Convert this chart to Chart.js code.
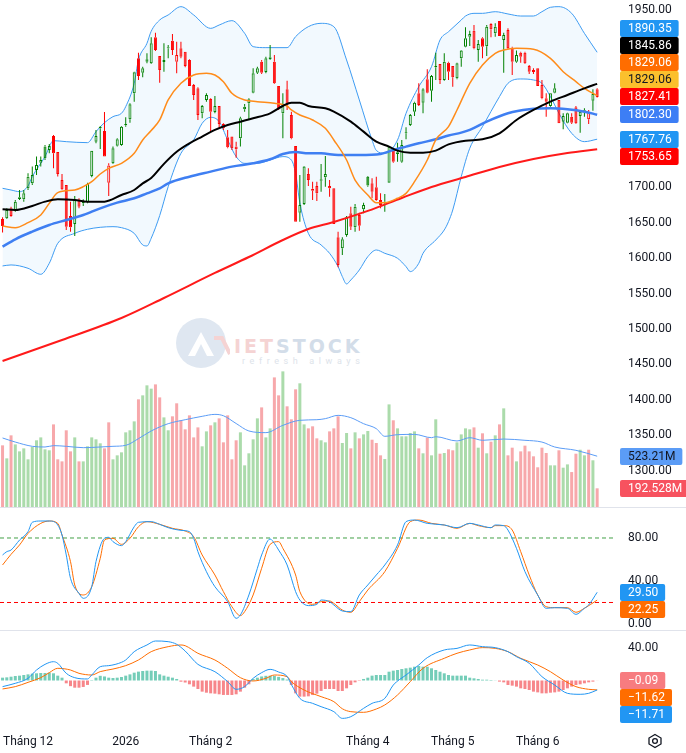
<!DOCTYPE html>
<html><head><meta charset="utf-8">
<script src="https://cdn.jsdelivr.net/npm/chart.js@4.4.1/dist/chart.umd.min.js"></script>
<style>
html,body{margin:0;padding:0;background:#fff;}
body{width:686px;height:753px;position:relative;overflow:hidden;font-family:Roboto,'Liberation Sans',Arial,sans-serif;}
canvas{position:absolute;left:0;}
#c1{top:0}
#c2{top:508px}
#c3{top:631px}
.sep{position:absolute;left:0;width:686px;height:1px;background:#e0e3eb;}
#wm{position:absolute;left:174px;top:316px;width:200px;height:56px;}
#wm .txt{position:absolute;left:60px;top:20px;font-family:'DejaVu Sans',sans-serif;font-weight:bold;font-size:19px;letter-spacing:3px;color:#d3dde9;line-height:20px;white-space:nowrap;}
#wm .txt span{color:#f5d3d3;}
#wm .sub{position:absolute;left:68px;top:40px;font-size:9px;letter-spacing:4.6px;color:#dde3ea;white-space:nowrap;}
#gear{position:absolute;left:647px;top:733px;}
</style></head><body>
<div id="wm">
  <svg width="56" height="56" viewBox="0 0 56 56" style="position:absolute;left:0;top:0">
    <circle cx="27" cy="27" r="25" fill="#dfe7f1"/>
    <path d="M14 40 L27 16 L40 40 L33 40 L27 28 L21 40 Z" fill="#ffffff"/>
    <path d="M40 22 L48 22 L56 38" stroke="#f5d3d3" stroke-width="4" fill="none"/>
  </svg>
  <div class="txt"><span>IET</span>STOCK</div>
  <div class="sub">refresh always</div>
</div>
<canvas id="c1" width="686" height="507"></canvas>
<div class="sep" style="top:507px"></div>
<canvas id="c2" width="686" height="122"></canvas>
<div class="sep" style="top:630px"></div>
<canvas id="c3" width="686" height="122"></canvas>
<svg id="gear" width="16" height="16" viewBox="0 0 16 16"><polygon points="8,1.5 14,5 14,11 8,14.5 2,11 2,5" fill="none" stroke="#131722" stroke-width="1.3"/><circle cx="8" cy="8" r="2.4" fill="none" stroke="#131722" stroke-width="1.3"/></svg>
<script>
// ---------------- DATA ----------------
const opens = [1655.2,1656.2,1670.3,1667.0,1683.4,1683.0,1698.5,1705.5,1724.3,1734.7,
1757.3,1752.5,1772.3,1749.7,1710.2,1703.2,1659.5,1648.2,1682.0,1677.3,
1678.8,1715.9,1764.3,1783.1,1779.4,1706.5,1733.7,1758.7,1759.6,1787.3,
1795.8,1832.5,1881.8,1861.6,1877.1,1874.8,1911.5,1885.1,1876.7,1895.9,
1906.7,1877.1,1895.9,1891.2,1879.5,1844.2,1839.5,1804.3,1823.1,1824.5,
1806.1,1814.6,1789.2,1770.4,1771.4,1757.3,1769.0,1809.9,1818.4,1833.4,
1861.6,1877.1,1862.6,1880.4,1877.1,1842.8,1804.3,1838.1,1801.9,1758.2,
1664.2,1676.4,1718.7,1698.0,1701.8,1709.3,1714.0,1701.8,1698.5,1629.4,
1613.9,1632.7,1663.2,1643.5,1660.9,1668.9,1714.9,1705.5,1699.9,1682.0,
1678.3,1706.5,1751.6,1746.9,1736.1,1776.1,1787.8,1806.6,1832.5,1819.3,
1852.2,1836.2,1869.1,1873.8,1851.3,1875.7,1871.0,1853.6,1881.8,1898.3,
1912.4,1920.8,1893.6,1910.0,1898.8,1930.3,1917.1,1934.5,1907.7,1921.8,
1896.9,1877.1,1889.8,1889.8,1871.0,1865.4,1867.7,1844.2,1825.4,1814.6,
1833.4,1823.1,1792.5,1791.1,1799.6,1812.7,1800.5,1806.6,1795.8,1822.1,
1838.1];
const highs = [1657.6,1670.3,1672.6,1682.0,1696.1,1696.1,1719.6,1729.1,1743.2,1743.2,
1759.6,1761.0,1773.7,1749.7,1718.7,1703.2,1679.7,1687.7,1684.4,1683.0,
1706.5,1751.6,1780.8,1786.4,1806.1,1733.7,1757.3,1769.0,1786.4,1798.6,
1818.4,1863.0,1889.8,1870.1,1888.9,1911.5,1918.0,1885.1,1903.0,1900.6,
1916.1,1905.3,1905.3,1891.2,1880.4,1845.6,1840.9,1816.0,1832.5,1825.4,
1828.7,1814.6,1790.2,1780.8,1771.4,1764.3,1799.6,1817.4,1825.4,1867.7,
1870.1,1879.5,1884.2,1900.6,1886.5,1842.8,1832.5,1850.3,1806.6,1758.2,
1717.3,1730.0,1726.7,1707.9,1707.9,1732.8,1744.1,1710.2,1698.5,1637.4,
1629.4,1659.5,1672.6,1676.4,1664.2,1678.3,1715.9,1712.6,1714.9,1691.4,
1690.5,1757.3,1754.9,1762.9,1766.7,1784.5,1803.3,1820.7,1846.6,1839.5,
1866.3,1858.3,1889.8,1873.8,1888.9,1877.1,1871.0,1875.7,1893.6,1925.6,
1920.8,1928.8,1907.7,1911.5,1928.8,1931.2,1931.2,1934.5,1918.0,1924.1,
1898.3,1892.7,1891.2,1891.2,1872.4,1867.7,1867.7,1851.3,1832.5,1832.5,
1846.6,1823.1,1804.3,1805.2,1804.3,1814.6,1809.0,1811.3,1809.0,1838.1,
1839.5];
const lows = [1636.0,1655.2,1658.5,1665.6,1682.0,1679.7,1696.1,1703.2,1717.3,1729.1,
1738.4,1747.8,1726.7,1715.0,1696.1,1639.7,1637.4,1631.3,1670.3,1673.6,
1677.3,1714.0,1762.0,1754.0,1743.2,1687.7,1732.8,1757.3,1758.7,1785.5,
1791.1,1820.7,1851.3,1855.0,1874.8,1873.8,1892.2,1847.5,1863.0,1881.8,
1886.5,1860.7,1881.8,1869.1,1842.8,1823.1,1794.9,1797.2,1820.7,1778.4,
1804.3,1783.1,1780.8,1754.9,1752.5,1741.7,1757.3,1806.6,1794.9,1832.5,
1859.7,1859.7,1860.7,1879.5,1845.6,1809.0,1769.0,1809.0,1767.6,1651.5,
1651.5,1675.0,1701.8,1682.0,1680.6,1693.8,1700.8,1686.7,1648.2,1587.1,
1604.5,1630.3,1639.7,1637.4,1638.8,1663.2,1700.8,1684.4,1681.1,1670.3,
1665.6,1706.5,1734.7,1736.1,1734.7,1767.6,1786.4,1800.5,1814.6,1804.3,
1832.5,1820.7,1851.3,1845.6,1850.3,1851.3,1841.9,1852.2,1870.1,1897.3,
1899.2,1894.5,1877.1,1881.8,1885.1,1911.5,1912.4,1913.3,1861.6,1894.5,
1858.3,1875.7,1875.7,1873.8,1859.7,1859.7,1842.8,1824.0,1799.6,1813.7,
1832.5,1790.2,1781.7,1790.2,1789.2,1789.2,1777.0,1799.6,1789.2,1808.0,
1826.5];
const closes = [1645.4,1667.9,1659.5,1679.7,1685.8,1691.4,1714.9,1717.3,1731.4,1738.4,
1740.8,1758.2,1747.8,1718.7,1697.1,1644.4,1643.5,1682.0,1672.6,1679.7,
1704.6,1751.6,1772.3,1785.5,1743.2,1730.5,1754.9,1767.6,1785.5,1789.2,
1817.0,1862.1,1856.9,1867.7,1880.4,1903.0,1893.6,1865.4,1879.5,1897.3,
1893.6,1886.5,1884.2,1871.0,1842.8,1830.1,1801.9,1814.6,1830.1,1806.6,
1814.6,1789.2,1783.1,1756.3,1754.9,1753.5,1797.2,1813.7,1824.0,1860.7,
1867.7,1861.6,1881.8,1883.2,1846.6,1811.3,1817.4,1816.5,1769.0,1651.5,
1675.0,1729.1,1710.2,1695.2,1691.4,1711.2,1718.7,1698.5,1648.2,1590.4,
1626.6,1657.6,1644.4,1672.6,1645.8,1675.0,1702.3,1693.8,1682.0,1675.0,
1679.7,1757.3,1736.1,1749.3,1759.6,1777.0,1801.9,1819.3,1816.0,1838.1,
1833.4,1856.9,1871.0,1851.3,1877.1,1863.0,1855.0,1874.8,1892.7,1910.0,
1916.1,1895.9,1902.0,1898.3,1926.5,1922.7,1926.5,1913.3,1914.7,1895.9,
1877.1,1886.5,1884.2,1874.8,1863.0,1862.6,1842.8,1825.4,1820.7,1832.5,
1839.5,1790.2,1800.5,1804.3,1791.1,1790.2,1806.6,1808.5,1806.6,1831.5,
1827.41];
// volume, millions
const volumes = [635,501,738,645,573,604,491,618,687,717,
594,584,851,491,470,790,573,717,470,470,
625,717,697,656,604,872,491,532,563,769,
790,882,1109,1150,1253,1219,1263,1129,923,790,
934,1068,893,800,944,717,820,625,779,841,
872,913,666,944,491,687,769,429,553,697,
913,1026,717,810,1335,1150,1397,1037,903,1212,
1274,851,810,831,707,687,666,779,810,934,
659,762,604,769,707,748,783,693,659,532,
494,1057,893,810,728,728,762,779,604,553,
714,532,903,549,556,594,584,666,748,810,
800,820,611,759,553,673,738,851,1016,532,
611,470,573,632,573,522,409,611,556,429,
429,584,405,439,360,549,590,532,590,481,
192.528];
const volMA = [[0,711],[3,669],[7,625],[10,618],[12,632],[15,625],[19,611],[23,618],[26,625],[29,635],[32,704],[35,783],[39,858],[43,899],[47,934],[50,954],[52,940],[55,860],[58,783],[62,766],[66,841],[70,893],[74,899],[76,910],[79,944],[82,920],[85,858],[88,807],[90,728],[93,745],[97,748],[101,714],[102,724],[107,680],[110,714],[113,687],[118,700],[123,687],[127,669],[130,618],[135,584],[140,523.21]];
const bbUpper = [[0,1698.5],[2,1696.1],[4,1693.8],[6,1701.8],[7,1714.9],[10,1743.2],[12,1765.7],[15,1764.3],[20,1762.9],[22,1778.4],[24,1791.1],[26,1799.6],[28,1804.3],[29,1813.7],[31,1846.6],[32,1879.5],[34,1903.0],[35,1920.0],[37,1935.9],[39,1943.0],[42,1954.7],[45,1943.0],[49,1924.1],[51,1928.8],[54,1935.0],[57,1917.1],[59,1898.3],[62,1896.9],[67,1896.9],[69,1912.4],[72,1926.5],[75,1931.2],[78,1926.5],[81,1879.5],[84,1823.1],[87,1766.7],[88,1752.0],[90,1747.9],[93,1766.7],[95,1804.3],[98,1841.9],[101,1870.1],[103,1907.7],[105,1919.4],[108,1935.9],[109,1941.5],[111,1945.3],[113,1945.3],[116,1947.6],[119,1944.4],[122,1941.5],[125,1941.5],[127,1947.6],[129,1953.8],[131,1954.7],[134,1945.3],[137,1917.1],[140,1890.35]];
const bbLower = [[0,1589.0],[2,1590.4],[6,1585.7],[9,1577.2],[11,1592.7],[13,1620.9],[17,1635.0],[20,1640.7],[23,1643.5],[26,1644.4],[28,1643.0],[31,1635.0],[33,1618.6],[34,1617.2],[35,1628.0],[37,1660.0],[39,1700.8],[42,1747.8],[45,1766.7],[47,1790.2],[49,1798.6],[51,1792.5],[53,1766.7],[55,1743.2],[57,1733.7],[60,1733.7],[63,1738.4],[66,1743.2],[68,1738.4],[69,1719.6],[70,1678.0],[72,1635.0],[75,1618.6],[77,1606.8],[79,1588.0],[80,1574.0],[81,1563.6],[82,1569.2],[84,1583.3],[86,1602.1],[88,1611.5],[90,1606.8],[93,1599.8],[95,1588.0],[96,1581.0],[98,1592.7],[99,1606.8],[102,1625.6],[104,1639.7],[105,1651.5],[106,1667.9],[108,1715.0],[110,1754.9],[113,1785.5],[117,1827.8],[119,1846.6],[122,1852.7],[125,1851.3],[127,1846.6],[129,1827.8],[131,1804.3],[134,1776.1],[137,1764.3],[140,1767.76]];
const ma20 = [[0,1645.4],[3,1643.0],[6,1650.1],[9,1660.9],[11,1677.3],[13,1692.4],[17,1696.1],[19,1700.8],[21,1707.9],[23,1718.7],[25,1726.7],[28,1733.7],[31,1747.8],[33,1766.7],[35,1780.0],[37,1795.0],[39,1823.1],[42,1846.6],[45,1858.3],[48,1860.7],[50,1858.3],[52,1848.9],[54,1832.5],[57,1823.1],[60,1820.7],[64,1818.4],[67,1814.6],[68,1809.0],[70,1801.9],[73,1794.9],[76,1783.1],[78,1766.7],[81,1738.4],[83,1710.2],[86,1689.1],[88,1678.3],[90,1678.3],[93,1684.4],[95,1691.4],[97,1707.9],[100,1738.4],[102,1766.7],[105,1785.5],[107,1809.0],[110,1846.6],[113,1872.4],[116,1888.9],[118,1893.6],[121,1895.9],[125,1894.5],[129,1881.8],[132,1863.0],[135,1848.9],[137,1839.5],[140,1829.06]];
const ma50 = [[0,1668.9],[3,1667.9],[7,1673.6],[10,1679.7],[13,1683.0],[17,1682.0],[20,1679.7],[24,1679.7],[28,1689.1],[31,1696.1],[33,1705.5],[35,1713.0],[38,1733.0],[41,1750.0],[44,1761.9],[47,1771.4],[50,1780.8],[53,1787.8],[56,1792.5],[59,1797.2],[63,1804.3],[66,1814.6],[68,1819.3],[70,1819.3],[72,1814.6],[76,1811.3],[78,1806.6],[82,1792.5],[85,1778.4],[88,1764.3],[91,1757.3],[93,1751.6],[96,1748.8],[99,1748.8],[102,1751.6],[105,1760.5],[109,1765.7],[113,1767.6],[117,1776.1],[121,1794.9],[125,1809.0],[129,1820.7],[133,1830.1],[137,1839.5],[140,1845.86]];
const ma100 = [[0,1616.2],[3,1626.6],[7,1637.4],[11,1646.8],[15,1653.8],[19,1660.9],[23,1670.3],[27,1678.3],[31,1684.4],[34,1691.4],[37,1698.5],[39,1705.5],[44,1714.9],[49,1722.0],[54,1729.1],[59,1733.7],[63,1739.4],[66,1746.9],[69,1749.7],[72,1747.8],[75,1747.8],[79,1745.5],[84,1745.5],[89,1746.9],[92,1752.5],[95,1757.3],[98,1762.0],[102,1767.6],[105,1773.0],[108,1777.0],[110,1780.8],[114,1792.5],[119,1804.3],[124,1809.9],[129,1811.3],[133,1809.9],[137,1806.6],[140,1802.30]];
const ma200 = [[0,1454.9],[14,1484.6],[28,1515.6],[38,1543.8],[50,1579.1],[58,1601.6],[66,1625.6],[72,1641.1],[78,1651.0],[86,1666.6],[94,1684.9],[101,1700.4],[109,1714.5],[117,1728.6],[125,1739.9],[133,1748.4],[140,1753.65]];
const stochK = [[0,64.2],[1,67.3],[2,68.8],[4,78.1],[6,85.9],[7,94.6],[9,95.8],[11,95.8],[13,92.1],[14,82.8],[15,64.2],[16,42.5],[18,28.5],[19,23.9],[21,34.7],[22,58.0],[24,79.7],[25,80.6],[26,76.6],[28,72.9],[29,76.6],[31,90.5],[32,94.6],[35,95.2],[37,92.7],[39,89.6],[42,87.1],[44,85.9],[45,79.7],[46,67.3],[48,48.7],[50,34.7],[53,20.8],[55,5.3],[56,8.4],[58,27.0],[60,51.8],[61,64.2],[63,79.1],[64,75.0],[65,68.8],[67,54.9],[69,30.1],[70,22.3],[72,17.1],[74,18.3],[75,22.3],[77,20.8],[78,17.7],[80,12.1],[82,11.5],[84,27.0],[86,36.3],[88,45.6],[90,54.9],[93,73.5],[95,95.2],[97,96.7],[100,93.6],[104,92.1],[107,89.6],[110,93.6],[112,92.1],[115,89.6],[116,92.1],[118,91.5],[119,87.4],[121,70.4],[123,48.7],[126,27.0],[128,14.6],[130,15.2],[133,14.6],[135,9.0],[137,14.6],[138,17.7],[140,29.50]];
const stochD = [[0,54.9],[2,64.8],[4,73.5],[6,84.3],[9,93.6],[11,95.8],[13,93.6],[14,82.8],[16,58.0],[17,36.3],[19,27.0],[21,34.7],[23,61.1],[24,78.1],[26,79.7],[28,74.1],[30,79.7],[32,90.5],[34,95.2],[37,92.7],[40,89.0],[43,86.5],[45,81.2],[47,64.2],[50,45.6],[52,30.1],[54,16.1],[56,7.8],[57,11.5],[59,27.0],[61,51.8],[63,74.1],[65,76.6],[66,70.4],[69,45.6],[70,30.1],[73,18.3],[75,20.8],[77,21.4],[78,19.2],[80,13.0],[82,10.9],[84,20.8],[86,31.6],[90,48.7],[93,70.4],[96,95.2],[98,96.7],[101,93.6],[104,92.1],[107,89.0],[110,93.6],[112,91.5],[115,89.6],[116,91.5],[118,91.5],[120,87.4],[122,67.3],[124,45.6],[126,27.0],[128,16.1],[130,15.2],[133,15.2],[135,10.9],[137,14.6],[140,22.25]];
const stochLevels = [80, 20];
const macdLine = [[0,-7.6],[3,-3.5],[6,2.7],[8,13.0],[10,20.0],[12,23.3],[13,21.3],[15,8.9],[17,3.5],[20,1.9],[21,6.8],[23,17.1],[25,18.4],[28,22.5],[29,25.4],[31,35.7],[34,44.0],[36,48.9],[39,48.1],[41,44.8],[43,36.5],[46,20.0],[50,10.9],[53,-1.4],[55,-10.9],[57,-7.6],[59,2.7],[61,9.7],[63,13.8],[65,10.5],[67,5.0],[68,-5.0],[70,-22.1],[73,-28.3],[75,-32.4],[78,-38.6],[80,-46.9],[82,-44.8],[85,-34.5],[87,-28.3],[90,-22.1],[92,-5.6],[95,6.8],[98,19.2],[100,28.3],[104,37.8],[107,39.8],[110,44.0],[113,41.9],[116,40.7],[119,35.7],[121,29.5],[124,21.3],[127,4.8],[130,-5.6],[133,-15.9],[136,-17.1],[138,-15.9],[140,-11.71]];
const signalLine = [[0,-10.5],[3,-7.6],[6,-2.3],[9,3.5],[11,9.7],[13,15.1],[16,13.0],[18,8.9],[21,6.8],[23,11.0],[26,14.2],[29,18.4],[32,25.4],[35,35.7],[39,41.9],[42,44.0],[43,43.1],[46,33.7],[50,25.4],[53,15.1],[56,3.5],[59,-0.6],[62,2.7],[64,6.8],[67,4.7],[68,-1.4],[71,-11.8],[75,-20.0],[78,-26.2],[80,-35.0],[82,-38.6],[85,-39.4],[88,-35.3],[90,-30.3],[93,-17.9],[96,-1.4],[99,15.1],[104,27.5],[107,33.7],[110,37.8],[113,40.7],[116,39.8],[119,35.7],[122,27.5],[126,19.2],[129,10.9],[132,0.6],[135,-7.6],[138,-10.9],[140,-11.62]];
const macdHist = [3.5,3.9,4.7,5.6,6.0,6.8,7.6,8.5,8.9,9.3,
9.3,9.7,8.9,6.0,3.5,-3.5,-7.0,-8.9,-8.9,-8.0,
-5.5,0.5,3.5,5.8,5.0,3.5,3.1,3.5,4.3,6.0,
7.6,9.7,11.0,11.8,12.2,12.2,11.8,7.6,6.0,4.7,
3.5,1.9,-1.5,-2.5,-4.7,-7.6,-10.5,-13.8,-15.1,-15.9,
-16.3,-17.1,-17.9,-17.9,-17.9,-17.1,-13.8,-8.9,-4.7,1.9,
3.5,5.0,5.8,6.0,5.8,4.5,3.0,1.2,-5.6,-15.9,
-20.0,-20.0,-19.6,-18.0,-16.3,-13.0,-10.5,-10.5,-10.5,-13.0,
-13.0,-9.7,-5.6,-2.3,-0.5,1.9,3.5,6.0,6.8,6.8,
6.8,10.9,12.2,13.0,14.2,15.1,15.9,17.1,18.0,17.1,
17.1,15.1,13.0,10.9,8.9,6.8,6.0,6.0,6.0,6.0,
3.5,2.7,1.9,1.0,1.0,0.6,0.2,-1.4,-2.3,-5.6,
-6.4,-7.6,-9.7,-10.5,-11.8,-13.8,-14.7,-15.9,-15.9,-15.1,
-14.7,-13.8,-11.8,-9.7,-7.6,-5.6,-4.7,-3.5,-2.3,-1.4,
-0.09];
const priceTicks = [1300,1350,1400,1450,1500,1550,1600,1650,1700,1750,1800,1850,1900,1950];
const stochTicks = [0,40,80];
const macdTicks = [40];
const tickMonths = ['2025-12','2026-01','2026-02','2026-04','2026-05','2026-06'];
const tickTexts = ['Tháng 12','2026','Tháng 2','Tháng 4','Tháng 5','Tháng 6'];
const holidays = ['2026-01-01','2026-01-02','2026-02-16','2026-02-17','2026-02-18','2026-02-19','2026-02-20','2026-04-27','2026-04-30','2026-05-01'];
const firstDay = '2025-11-21', lastDay = '2026-06-19';

// ---------------- VIEW ----------------
const FONT = "Roboto, 'Liberation Sans', Arial, sans-serif";
Chart.defaults.font.family = FONT;
const XMIN = -0.6, XMAX = 144.2;
const PMIN = 1249.0, PMAX = 1964.1;
const VMAX = 5222;
const SMIN = -5.58, SMAX = 107.9;
const MMIN = -62.54, MMAX = 61.3;
const UP = '#008000', DN = '#FF0000';
const VUP = '#ABDBAB', VDN = '#F7A8AB';

function tradingDays(a, b) {
  const out = []; const d = new Date(a + 'T00:00:00Z'); const e = new Date(b + 'T00:00:00Z');
  while (d <= e) {
    const s = d.toISOString().slice(0, 10); const w = d.getUTCDay();
    if (w !== 0 && w !== 6 && holidays.indexOf(s) < 0) out.push(s);
    d.setUTCDate(d.getUTCDate() + 1);
  }
  return out;
}
const categories = tradingDays(firstDay, lastDay);
const tickIdx = tickMonths.map(m => categories.findIndex(s => s.slice(0, 7) === m));

const isUp = closes.map((c, i) => i === 0 ? c >= opens[i] : c >= closes[i - 1]);
const hollow = closes.map((c, i) => c >= opens[i]);
const cCol = isUp.map(u => u ? UP : DN);
const last = a => a[a.length - 1];
const lastV = a => last(a)[1];
const fmt = v => v.toFixed(2).replace('-', '\u2212');

function xScale(show) {
  return {
    type: 'linear', min: XMIN, max: XMAX, display: show, offset: false,
    grid: { display: false, drawTicks: false }, border: { display: false },
    afterBuildTicks: s => { s.ticks = tickIdx.map(v => ({ value: v })); },
    ticks: { autoSkip: false, maxRotation: 0, padding: 4, color: '#131722', font: { size: 12 },
      callback: v => tickTexts[tickIdx.indexOf(v)] },
    afterFit: s => { if (show) { s.height = 22; } else { s.height = 0; } s.paddingLeft = 0; s.paddingRight = 0; }
  };
}
function yScale(min, max, ticks) {
  return {
    type: 'linear', position: 'right', min, max,
    grid: { display: false, drawTicks: false }, border: { display: false },
    afterBuildTicks: s => { s.ticks = ticks.map(v => ({ value: v })); },
    ticks: { padding: 13, color: '#131722', font: { size: 12 }, callback: v => fmt(v) },
    afterFit: s => { s.width = 71; s.paddingTop = 0; s.paddingBottom = 0; }
  };
}
function line(pts, color, width, extra) {
  return Object.assign({ type: 'line', data: pts.map(p => ({ x: p[0], y: p[1] })), borderColor: color,
    borderWidth: width, pointRadius: 0, pointHoverRadius: 0, cubicInterpolationMode: 'monotone',
    fill: false, yAxisID: 'y', order: 1 }, extra || {});
}
function rr(ctx, x, y, w, h, r) {
  ctx.beginPath(); ctx.moveTo(x + r, y); ctx.lineTo(x + w - r, y); ctx.quadraticCurveTo(x + w, y, x + w, y + r);
  ctx.lineTo(x + w, y + h - r); ctx.quadraticCurveTo(x + w, y + h, x + w - r, y + h); ctx.lineTo(x + r, y + h);
  ctx.quadraticCurveTo(x, y + h, x, y + h - r); ctx.lineTo(x, y + r); ctx.quadraticCurveTo(x, y, x + r, y); ctx.closePath();
}
const badgePlugin = {
  id: 'badges',
  afterDraw(chart, args, opts) {
    const ctx = chart.ctx; const H = 17;
    (opts.groups || []).forEach(g => {
      const pos = g.items.map(b => chart.scales[b.axis].getPixelForValue(b.value));
      const ys = pos.slice(); const a = g.anchor;
      for (let k = a - 1; k >= 0; k--) ys[k] = Math.min(pos[k], ys[k + 1] - H);
      for (let k = a + 1; k < ys.length; k++) ys[k] = Math.max(pos[k], ys[k - 1] + H);
      ctx.save(); ctx.font = '12px ' + FONT; ctx.textBaseline = 'middle';
      g.items.forEach((b, k) => {
        const w = ctx.measureText(b.text).width + 15; const x = chart.chartArea.right + 5;
        rr(ctx, x, Math.round(ys[k] - H / 2), w, H, 2); ctx.fillStyle = b.bg; ctx.fill();
        ctx.fillStyle = b.fg; ctx.fillText(b.text, x + 8, Math.round(ys[k] - H / 2) + H / 2 + 0.5);
      });
      ctx.restore();
    });
  }
};
const base = { responsive: false, animation: false, events: [], layout: { padding: 0 } };

// ---------------- MAIN: price + volume ----------------
new Chart(document.getElementById('c1'), {
  type: 'line',
  data: { datasets: [
    { type: 'bar', data: volumes.map((v, i) => ({ x: i, y: v })), backgroundColor: isUp.map(u => u ? VUP : VDN),
      barThickness: 3, grouped: false, yAxisID: 'yv', order: 30, inflateAmount: 0 },
    line(volMA, '#5B9CF6', 1, { yAxisID: 'yv', order: 29 }),
    line(bbUpper, '#3D9BF2', 1, { fill: '+1', backgroundColor: 'rgba(33,150,243,0.06)', order: 28 }),
    line(bbLower, '#3D9BF2', 1, { order: 27 }),
    { type: 'bar', data: closes.map((c, i) => ({ x: i, y: [Math.max(c, opens[i]), highs[i]] })), backgroundColor: cCol,
      barThickness: 1, grouped: false, order: 12, inflateAmount: 0, borderWidth: 0 },
    { type: 'bar', data: closes.map((c, i) => ({ x: i, y: [lows[i], Math.min(c, opens[i])] })), backgroundColor: cCol,
      barThickness: 1, grouped: false, order: 11, inflateAmount: 0, borderWidth: 0 },
    { type: 'bar', data: closes.map((c, i) => ({ x: i, y: [opens[i], c] })),
      backgroundColor: hollow.map((h, i) => h ? 'rgba(255,255,255,0)' : cCol[i]), borderColor: cCol,
      borderWidth: 1, borderSkipped: false, barThickness: 3, minBarLength: 1, grouped: false, order: 10, inflateAmount: 0 },
    line(ma200, '#FF1A1A', 2, { order: 4 }),
    line(ma100, '#3F7FF2', 2.5, { order: 3 }),
    line(ma20, '#FF8C1A', 1.5, { order: 2 }),
    line(ma50, '#000000', 2, { order: 1 })
  ] },
  options: Object.assign({}, base, {
    plugins: { legend: { display: false }, tooltip: { enabled: false },
      filler: { drawTime: 'beforeDatasetsDraw', propagate: false },
      badges: { groups: [
        { anchor: 4, items: [
          { axis: 'y', value: lastV(bbUpper), text: fmt(lastV(bbUpper)), bg: '#2196F3', fg: '#fff' },
          { axis: 'y', value: lastV(ma50), text: fmt(lastV(ma50)), bg: '#000000', fg: '#fff' },
          { axis: 'y', value: lastV(ma20), text: fmt(lastV(ma20)), bg: '#FF6D00', fg: '#fff' },
          { axis: 'y', value: lastV(ma20), text: fmt(lastV(ma20)), bg: '#FBC02D', fg: '#131722' },
          { axis: 'y', value: last(closes), text: fmt(last(closes)), bg: '#FF0000', fg: '#fff' },
          { axis: 'y', value: lastV(ma100), text: fmt(lastV(ma100)), bg: '#3D7EF5', fg: '#fff' },
          { axis: 'y', value: lastV(bbLower), text: fmt(lastV(bbLower)), bg: '#2196F3', fg: '#fff' },
          { axis: 'y', value: lastV(ma200), text: fmt(lastV(ma200)), bg: '#FF0000', fg: '#fff' }
        ] },
        { anchor: 0, items: [
          { axis: 'yv', value: lastV(volMA), text: String(lastV(volMA)) + 'M', bg: '#5B9CF6', fg: '#131722' },
          { axis: 'yv', value: last(volumes), text: String(last(volumes)) + 'M', bg: '#F7525F', fg: '#fff' }
        ] }
      ] } },
    scales: { x: xScale(false), y: yScale(PMIN, PMAX, priceTicks),
      yv: { type: 'linear', display: false, min: 0, max: VMAX } }
  }),
  plugins: [badgePlugin]
});

// ---------------- STOCHASTIC ----------------
new Chart(document.getElementById('c2'), {
  type: 'line',
  data: { datasets: [
    line([[XMIN, stochLevels[0]], [XMAX, stochLevels[0]]], '#43A047', 1, { borderDash: [4, 3], cubicInterpolationMode: 'default', order: 5 }),
    line([[XMIN, stochLevels[1]], [XMAX, stochLevels[1]]], '#FF0000', 1, { borderDash: [4, 3], cubicInterpolationMode: 'default', order: 5 }),
    line(stochD, '#FF6D00', 1, { order: 2 }),
    line(stochK, '#2196F3', 1, { order: 1 })
  ] },
  options: Object.assign({}, base, {
    plugins: { legend: { display: false }, tooltip: { enabled: false },
      badges: { groups: [{ anchor: 0, items: [
        { axis: 'y', value: lastV(stochK), text: fmt(lastV(stochK)), bg: '#2196F3', fg: '#fff' },
        { axis: 'y', value: lastV(stochD), text: fmt(lastV(stochD)), bg: '#FF6D00', fg: '#fff' }
      ] }] } },
    scales: { x: xScale(false), y: yScale(SMIN, SMAX, stochTicks) }
  }),
  plugins: [badgePlugin]
});

// ---------------- MACD ----------------
new Chart(document.getElementById('c3'), {
  type: 'line',
  data: { datasets: [
    { type: 'bar', data: macdHist.map((v, i) => ({ x: i, y: v })), backgroundColor: macdHist.map(v => v >= 0 ? '#74CDB8' : '#F7868A'),
      barThickness: 3, grouped: false, order: 5, inflateAmount: 0 },
    line(signalLine, '#FF6D00', 1, { order: 2 }),
    line(macdLine, '#2196F3', 1, { order: 1 })
  ] },
  options: Object.assign({}, base, {
    plugins: { legend: { display: false }, tooltip: { enabled: false },
      badges: { groups: [{ anchor: 0, items: [
        { axis: 'y', value: last(macdHist), text: fmt(last(macdHist)), bg: '#F77C80', fg: '#fff' },
        { axis: 'y', value: lastV(signalLine), text: fmt(lastV(signalLine)), bg: '#FF6D00', fg: '#fff' },
        { axis: 'y', value: lastV(macdLine), text: fmt(lastV(macdLine)), bg: '#2196F3', fg: '#fff' }
      ] }] } },
    scales: { x: xScale(true), y: yScale(MMIN, MMAX, macdTicks) }
  }),
  plugins: [badgePlugin]
});
</script>
</body></html>
